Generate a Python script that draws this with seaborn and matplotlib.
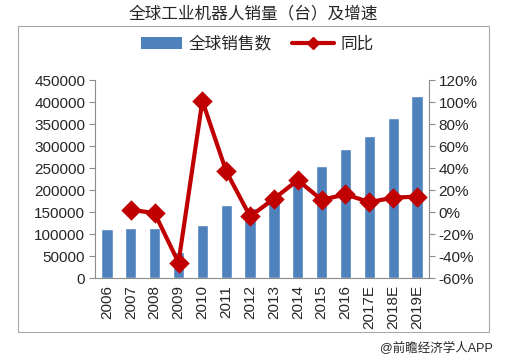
import pandas as pd
import seaborn as sns
import matplotlib.pyplot as plt
from matplotlib.patches import Patch, Rectangle
from matplotlib.lines import Line2D
from matplotlib.ticker import FuncFormatter, FixedLocator

# Data
years = ['2006', '2007', '2008', '2009', '2010', '2011', '2012',
         '2013', '2014', '2015', '2016', '2017E', '2018E', '2019E']
sales = [112000, 114000, 113000, 60000, 121000, 166000, 159000,
         178000, 221000, 254000, 294000, 322000, 363000, 414000]
growth_years = years[1:]
growth = [0.02, -0.01, -0.46, 1.01, 0.37, -0.04,
          0.12, 0.29, 0.11, 0.16, 0.09, 0.13, 0.14]

bar_color = '#4F81BD'
line_color = '#C00000'

sns.set_style('white')
plt.rcParams['font.family'] = ['Liberation Sans', 'Noto Sans CJK SC']
plt.rcParams['axes.unicode_minus'] = False

df_sales = pd.DataFrame({'year': years, 'sales': sales})
df_growth = pd.DataFrame({'year': growth_years, 'growth': growth})

fig = plt.figure(figsize=(5.09, 3.6), dpi=100)
ax = fig.add_axes([95 / 509, 1 - 278 / 360, (429 - 95) / 509, (278 - 80) / 360])

sns.barplot(data=df_sales, x='year', y='sales', order=years, color=bar_color,
            saturation=1, width=0.47, ax=ax)
ax.set_ylim(0, 450000)
ax.set_yticks(range(0, 450001, 50000))
ax.set_xlim(-0.5, len(years) - 0.5)
ax.set_xlabel('')
ax.set_ylabel('')

ax2 = ax.twinx()
sns.pointplot(data=df_growth, x='year', y='growth', order=years, color=line_color,
              markers='D', markersize=8, linewidth=3, errorbar=None, ax=ax2)
ax2.set_ylim(-0.6, 1.2)
ax2.set_yticks([i / 10 for i in range(-6, 13, 2)])
ax2.yaxis.set_major_formatter(FuncFormatter(lambda v, p: f'{v * 100:.0f}%'))
ax2.set_xlim(-0.5, len(years) - 0.5)
ax2.set_ylabel('')
ax2.set_xlabel('')

# spines and ticks
axis_grey = '#8C8C8C'
for a in (ax, ax2):
    for s in a.spines.values():
        s.set_color(axis_grey)
        s.set_linewidth(0.8)
    a.spines['top'].set_visible(False)
ax.spines['right'].set_visible(False)
ax2.spines['left'].set_visible(False)
ax2.spines['bottom'].set_visible(False)

ax.tick_params(axis='y', direction='out', length=4, color=axis_grey, labelsize=11, pad=3)
ax2.tick_params(axis='y', direction='out', length=4, color=axis_grey, labelsize=11, pad=3)
ax.tick_params(axis='x', which='major', length=0, labelsize=11, rotation=90, pad=5)
ax.xaxis.set_minor_locator(FixedLocator([i - 0.5 for i in range(len(years) + 1)]))
ax.tick_params(axis='x', which='minor', direction='out', length=4, color=axis_grey)
for lbl in ax.get_xticklabels():
    lbl.set_verticalalignment('top')

# legend and titles
handles = [Patch(facecolor=bar_color, edgecolor='none'),
           Line2D([], [], color=line_color, lw=3, marker='D', markersize=6)]
fig.legend(handles, ['全球销售数', '同比'], loc='center', bbox_to_anchor=(0.505, 0.878),
           ncol=2, frameon=False, fontsize=12, handlelength=2.5, columnspacing=1.2,
           handletextpad=0.4)
fig.text(0.497, 0.962, '全球工业机器人销量（台）及增速', ha='center', va='center', fontsize=12)
fig.text(493 / 509, 1 - 348 / 360, '@前瞻经济学人APP', ha='right', va='center', fontsize=9)

fig.add_artist(Rectangle((18 / 509, 1 - 332 / 360), 471 / 509, 306 / 360,
                         transform=fig.transFigure, fill=False,
                         edgecolor='#A6A6A6', linewidth=0.8))

fig.savefig('out.png', dpi=100)
